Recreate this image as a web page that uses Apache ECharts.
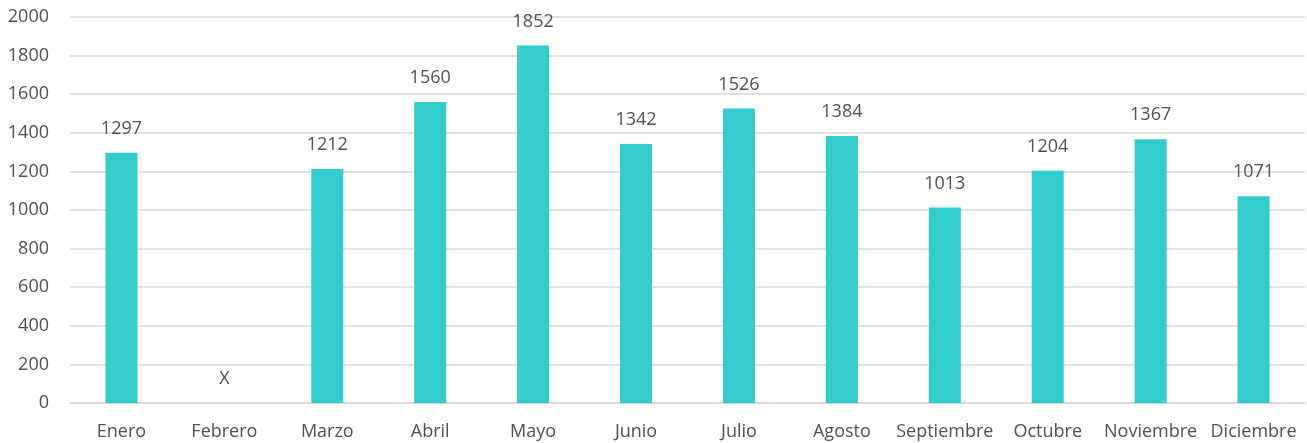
<!DOCTYPE html>
<html>
<head>
<meta charset="utf-8">
<script src="https://cdn.jsdelivr.net/npm/echarts@6/dist/echarts.min.js"></script>
<style>
  html, body { margin: 0; padding: 0; background: #fff; }
  #chart { width: 1307px; height: 443px; }
</style>
</head>
<body>
<div id="chart"></div>
<script>
// meses y valores
var months = ['Enero', 'Febrero', 'Marzo', 'Abril', 'Mayo', 'Junio', 'Julio',
  'Agosto', 'Septiembre', 'Octubre', 'Noviembre', 'Diciembre'];
var values = [1297, 0, 1212, 1560, 1852, 1342, 1526, 1384, 1013, 1204, 1367, 1071];
// Febrero no tiene dato: se marca con una X
var barLabels = ['1297', 'X', '1212', '1560', '1852', '1342', '1526', '1384', '1013', '1204', '1367', '1071'];
var yTicks = { min: 0, max: 2000, interval: 200 };

var TEXT = '#505050';
var FONT = 'Open Sans';

var myChart = echarts.init(document.getElementById('chart'));

var option = {
  animation: false,
  grid: {
    left: 70,
    right: 2,
    top: 17,
    bottom: 40
  },
  xAxis: {
    type: 'category',
    data: months,
    axisTick: { show: false },
    axisLine: { lineStyle: { color: '#d9d9d9', width: 1.5 } },
    axisLabel: {
      color: TEXT,
      fontFamily: FONT,
      fontSize: 18,
      margin: 20,
      interval: 0
    }
  },
  yAxis: {
    type: 'value',
    min: yTicks.min,
    max: yTicks.max,
    interval: yTicks.interval,
    axisLine: { show: false },
    axisTick: { show: false },
    splitLine: { lineStyle: { color: '#d9d9d9', width: 1.5 } },
    axisLabel: {
      color: TEXT,
      fontFamily: FONT,
      fontSize: 18,
      margin: 21,
      formatter: function (v) { return String(v); }
    }
  },
  series: [{
    type: 'bar',
    data: values,
    barWidth: 32,
    itemStyle: { color: '#33CCCC' },
    label: {
      show: true,
      position: 'top',
      distance: 15,
      color: TEXT,
      fontFamily: FONT,
      fontSize: 18,
      formatter: function (params) {
        return barLabels[params.dataIndex];
      }
    }
  }]
};

myChart.setOption(option);
</script>
</body>
</html>
